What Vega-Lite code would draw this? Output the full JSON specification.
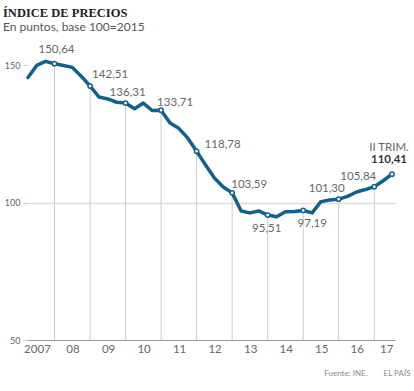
{
  "$schema": "https://vega.github.io/schema/vega-lite/v6.json",
  "width": 372,
  "height": 302,
  "autosize": {"type": "none"},
  "padding": {"left": 23, "top": 38, "right": 19, "bottom": 51},
  "background": "white",
  "config": {
    "view": {"stroke": null},
    "font": "Lato",
    "locale": {"number": {"decimal": ",", "thousands": ".", "grouping": [3], "currency": ["", " €"]}}
  },
  "title": {
    "text": "ÍNDICE DE PRECIOS",
    "subtitle": "En puntos, base 100=2015",
    "anchor": "start",
    "frame": "group",
    "dx": -20,
    "offset": 5,
    "font": "Liberation Serif",
    "fontSize": 12.5,
    "fontWeight": "bold",
    "color": "#222222",
    "subtitleFont": "Lato",
    "subtitleFontSize": 12,
    "subtitleColor": "#555555",
    "subtitlePadding": 3
  },
  "data": {
    "values": [
      {"fecha": "2007-01-01", "valor": 145.6},
      {"fecha": "2007-04-01", "valor": 150.0},
      {"fecha": "2007-07-01", "valor": 151.5},
      {"fecha": "2007-10-01", "valor": 150.64},
      {"fecha": "2008-01-01", "valor": 150.0},
      {"fecha": "2008-04-01", "valor": 149.3},
      {"fecha": "2008-07-01", "valor": 146.1},
      {"fecha": "2008-10-01", "valor": 142.51},
      {"fecha": "2009-01-01", "valor": 138.5},
      {"fecha": "2009-04-01", "valor": 137.8},
      {"fecha": "2009-07-01", "valor": 136.6},
      {"fecha": "2009-10-01", "valor": 136.31},
      {"fecha": "2010-01-01", "valor": 134.2},
      {"fecha": "2010-04-01", "valor": 136.3},
      {"fecha": "2010-07-01", "valor": 133.6},
      {"fecha": "2010-10-01", "valor": 133.71},
      {"fecha": "2011-01-01", "valor": 129.0},
      {"fecha": "2011-04-01", "valor": 127.1},
      {"fecha": "2011-07-01", "valor": 123.6},
      {"fecha": "2011-10-01", "valor": 118.78},
      {"fecha": "2012-01-01", "valor": 113.8},
      {"fecha": "2012-04-01", "valor": 109.0},
      {"fecha": "2012-07-01", "valor": 105.7},
      {"fecha": "2012-10-01", "valor": 103.59},
      {"fecha": "2013-01-01", "valor": 97.0},
      {"fecha": "2013-04-01", "valor": 96.3},
      {"fecha": "2013-07-01", "valor": 97.0},
      {"fecha": "2013-10-01", "valor": 95.51},
      {"fecha": "2014-01-01", "valor": 94.9},
      {"fecha": "2014-04-01", "valor": 96.7},
      {"fecha": "2014-07-01", "valor": 96.8},
      {"fecha": "2014-10-01", "valor": 97.19},
      {"fecha": "2015-01-01", "valor": 96.3},
      {"fecha": "2015-04-01", "valor": 100.4},
      {"fecha": "2015-07-01", "valor": 101.0},
      {"fecha": "2015-10-01", "valor": 101.30},
      {"fecha": "2016-01-01", "valor": 102.3},
      {"fecha": "2016-04-01", "valor": 103.9},
      {"fecha": "2016-07-01", "valor": 104.8},
      {"fecha": "2016-10-01", "valor": 105.84},
      {"fecha": "2017-01-01", "valor": 108.0},
      {"fecha": "2017-04-01", "valor": 110.41}
    ],
    "format": {"parse": {"fecha": "date"}}
  },
  "encoding": {
    "x": {
      "field": "fecha",
      "type": "temporal",
      "scale": {"domain": [
        {"year": 2006, "month": 11, "date": 11, "utc": true},
        {"year": 2017, "month": 5, "date": 2, "utc": true}
      ]},
      "axis": {
        "values": [
          {"year": 2007, "month": 1, "date": 1, "utc": true},
          {"year": 2008, "month": 1, "date": 1, "utc": true},
          {"year": 2009, "month": 1, "date": 1, "utc": true},
          {"year": 2010, "month": 1, "date": 1, "utc": true},
          {"year": 2011, "month": 1, "date": 1, "utc": true},
          {"year": 2012, "month": 1, "date": 1, "utc": true},
          {"year": 2013, "month": 1, "date": 1, "utc": true},
          {"year": 2014, "month": 1, "date": 1, "utc": true},
          {"year": 2015, "month": 1, "date": 1, "utc": true},
          {"year": 2016, "month": 1, "date": 1, "utc": true},
          {"year": 2017, "month": 1, "date": 1, "utc": true}
        ],
        "labelExpr": "utcyear(datum.value) == 2007 ? '2007' : utcFormat(datum.value, '%y')",
        "ticks": false,
        "grid": false,
        "domainColor": "#999999",
        "domainWidth": 1,
        "labelFont": "Lato",
        "labelFontSize": 11.5,
        "labelColor": "#666666",
        "labelPadding": 3,
        "labelOverlap": false,
        "labelFlush": false,
        "labelOffset": {"condition": {"test": "utcyear(datum.value) == 2017", "value": 3}, "value": 9},
        "title": "Fuente: INE.\u2003\u2003\u2002EL PAÍS",
        "titleFont": "Lato",
        "titleFontSize": 8,
        "titleFontWeight": "normal",
        "titleColor": "#888888",
        "titleAlign": "right",
        "titleBaseline": "alphabetic",
        "titleX": 387,
        "titleY": 35
      }
    },
    "y": {
      "field": "valor",
      "type": "quantitative",
      "scale": {"domain": [50, 160], "nice": false, "zero": false},
      "axis": {
        "values": [50, 100, 150],
        "title": null,
        "domain": false,
        "tickSize": -5,
        "tickColor": "#cccccc",
        "labelPadding": 8,
        "labelFont": "Lato",
        "labelFontSize": 9,
        "labelColor": "#666666",
        "grid": true,
        "gridColor": {"condition": {"test": "datum.value == 100", "value": "#dddddd"}, "value": "transparent"},
        "gridWidth": 1.5
      }
    }
  },
  "layer": [
    {
      "transform": [{"filter": "utcmonth(datum.fecha) == 9"}],
      "mark": {"type": "rule", "color": "#cccccc", "strokeWidth": 1},
      "encoding": {"y2": {"datum": 50}}
    },
    {
      "mark": {"type": "line", "color": "#11618f", "strokeWidth": 3.5, "strokeJoin": "round", "strokeCap": "round"}
    },
    {
      "transform": [{"filter": "utcmonth(datum.fecha) == 9 || datum.valor == 110.41"}],
      "mark": {"type": "point", "filled": true, "fill": "white", "stroke": "#11618f", "strokeWidth": 1.5, "size": 18, "opacity": 1}
    },
    {
      "transform": [{"filter": "datum.valor == 150.64"}],
      "mark": {"type": "text", "dx": 2, "dy": -11, "baseline": "alphabetic", "fontSize": 11.5, "color": "#666666"},
      "encoding": {"text": {"field": "valor", "format": ".2f"}}
    },
    {
      "transform": [{"filter": "datum.valor == 142.51"}],
      "mark": {"type": "text", "dx": 20, "dy": -8.5, "baseline": "alphabetic", "fontSize": 11.5, "color": "#666666"},
      "encoding": {"text": {"field": "valor", "format": ".2f"}}
    },
    {
      "transform": [{"filter": "datum.valor == 136.31"}],
      "mark": {"type": "text", "dx": 2, "dy": -7.5, "baseline": "alphabetic", "fontSize": 11.5, "color": "#666666"},
      "encoding": {"text": {"field": "valor", "format": ".2f"}}
    },
    {
      "transform": [{"filter": "datum.valor == 133.71"}],
      "mark": {"type": "text", "dx": 14, "dy": -4, "baseline": "alphabetic", "fontSize": 11.5, "color": "#666666"},
      "encoding": {"text": {"field": "valor", "format": ".2f"}}
    },
    {
      "transform": [{"filter": "datum.valor == 118.78"}],
      "mark": {"type": "text", "dx": 26, "dy": -3, "baseline": "alphabetic", "fontSize": 11.5, "color": "#666666"},
      "encoding": {"text": {"field": "valor", "format": ".2f"}}
    },
    {
      "transform": [{"filter": "datum.valor == 103.59"}],
      "mark": {"type": "text", "dx": 17, "dy": -5, "baseline": "alphabetic", "fontSize": 11.5, "color": "#666666"},
      "encoding": {"text": {"field": "valor", "format": ".2f"}}
    },
    {
      "transform": [{"filter": "datum.valor == 95.51"}],
      "mark": {"type": "text", "dx": -1, "dy": 17, "baseline": "alphabetic", "fontSize": 11.5, "color": "#666666"},
      "encoding": {"text": {"field": "valor", "format": ".2f"}}
    },
    {
      "transform": [{"filter": "datum.valor == 97.19"}],
      "mark": {"type": "text", "dx": 9, "dy": 16.5, "baseline": "alphabetic", "fontSize": 11.5, "color": "#666666"},
      "encoding": {"text": {"field": "valor", "format": ".2f"}}
    },
    {
      "transform": [{"filter": "datum.valor == 101.3"}],
      "mark": {"type": "text", "dx": -12, "dy": -7, "baseline": "alphabetic", "fontSize": 11.5, "color": "#666666"},
      "encoding": {"text": {"field": "valor", "format": ".2f"}}
    },
    {
      "transform": [{"filter": "datum.valor == 105.84"}],
      "mark": {"type": "text", "dx": -16, "dy": -7, "baseline": "alphabetic", "fontSize": 11.5, "color": "#666666"},
      "encoding": {"text": {"field": "valor", "format": ".2f"}}
    },
    {
      "transform": [{"filter": "datum.valor == 110.41"}],
      "mark": {"type": "text", "dx": -3, "dy": -11, "baseline": "alphabetic", "fontSize": 11.5, "fontWeight": "bold", "color": "#333333"},
      "encoding": {"text": {"field": "valor", "format": ".2f"}}
    },
    {
      "transform": [{"filter": "datum.valor == 110.41"}],
      "mark": {"type": "text", "dx": -3, "dy": -23, "baseline": "alphabetic", "fontSize": 11.5, "color": "#666666"},
      "encoding": {"text": {"value": "II TRIM."}}
    }
  ]
}
